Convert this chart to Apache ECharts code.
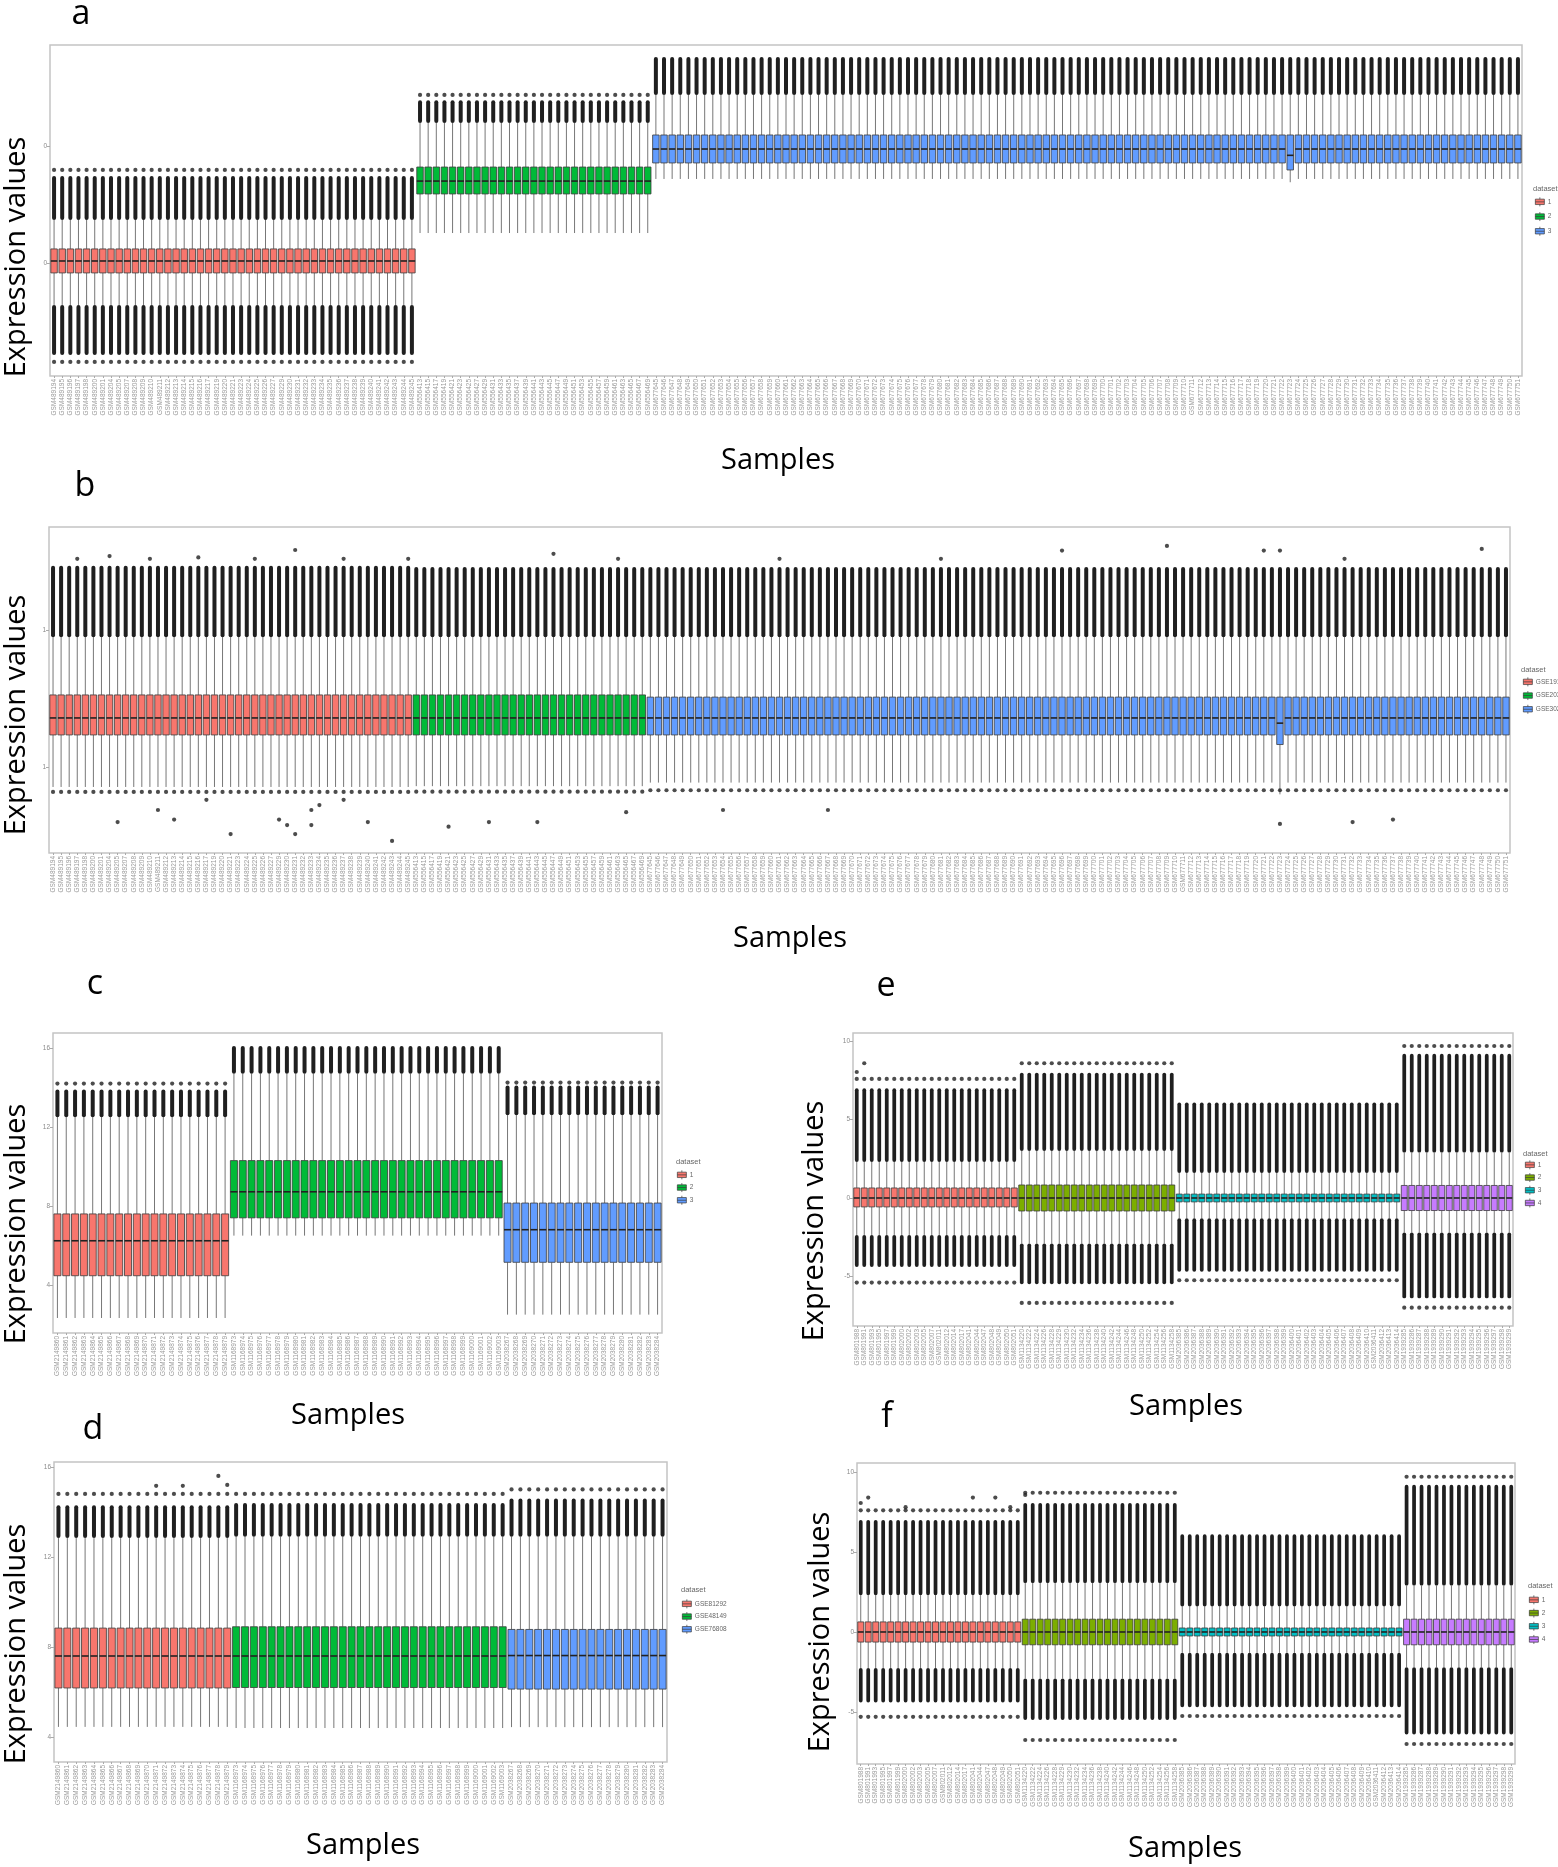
<!DOCTYPE html>
<html><head><meta charset="utf-8">
<script src="https://cdn.jsdelivr.net/npm/echarts@6/dist/echarts.min.js"></script>
<style>html,body{margin:0;padding:0;background:#fff}#c{width:1558px;height:1867px}</style>
</head><body><div id="c"></div>
<script>
// ---------------- categories (sample ids) ----------------
const abRedIds = [489194,489195,489196,489197,489198,489200,489201,489204,489205,489207,489208,489209,489210,489211,489212,489213,489214,489215,489216,489217,489219,489220,489221,489223,489224,489225,489226,489227,489229,489230,489231,489232,489233,489234,489235,489236,489237,489238,489239,489240,489241,489242,489243,489244,489245];
const abGreenIds = [556413,556415,556417,556419,556421,556423,556425,556427,556429,556431,556433,556435,556437,556439,556441,556443,556445,556447,556449,556451,556453,556455,556457,556459,556461,556463,556465,556467,556469];
const abBlueIds = [677645,677646,677647,677648,677649,677650,677651,677652,677653,677654,677655,677656,677657,677658,677659,677660,677661,677662,677663,677664,677665,677666,677667,677668,677669,677670,677671,677672,677673,677674,677675,677676,677677,677678,677679,677680,677681,677682,677683,677684,677685,677686,677687,677688,677689,677690,677691,677692,677693,677694,677695,677696,677697,677698,677699,677700,677701,677702,677703,677704,677705,677706,677707,677708,677709,677710,677711,677712,677713,677714,677715,677716,677717,677718,677719,677720,677721,677722,677723,677724,677725,677726,677727,677728,677729,677730,677731,677732,677733,677734,677735,677736,677737,677738,677739,677740,677741,677742,677743,677744,677745,677746,677747,677748,677749,677750,677751];
const cdRedIds = [2149860,2149861,2149862,2149863,2149864,2149865,2149866,2149867,2149868,2149869,2149870,2149871,2149872,2149873,2149874,2149875,2149876,2149877,2149878,2149879];
const cdGreenIds = [1168973,1168974,1168975,1168976,1168977,1168978,1168979,1168980,1168981,1168982,1168983,1168984,1168985,1168986,1168987,1168988,1168989,1168990,1168991,1168992,1168993,1168994,1168995,1168996,1168997,1168998,1168999,1169000,1169001,1169002,1169003];
const cdBlueIds = [2038267,2038268,2038269,2038270,2038271,2038272,2038273,2038274,2038275,2038276,2038277,2038278,2038279,2038280,2038281,2038282,2038283,2038284];
const efRedIds = [801988,801991,801993,801995,801997,801999,802000,802002,802003,802005,802007,802011,802012,802014,802017,802041,802044,802047,802048,802049,802050,802051];
const efOliveIds = [1134220,1134222,1134224,1134226,1134228,1134229,1134230,1134232,1134234,1134236,1134238,1134240,1134242,1134244,1134246,1134248,1134250,1134252,1134254,1134256,1134258];
const efTealIds = [2036385,2036386,2036387,2036388,2036389,2036390,2036391,2036392,2036393,2036394,2036395,2036396,2036397,2036398,2036399,2036400,2036401,2036402,2036403,2036404,2036405,2036406,2036407,2036408,2036409,2036410,2036411,2036412,2036413,2036414];
const efPurpleIds = [1939285,1939286,1939287,1939288,1939289,1939290,1939291,1939292,1939293,1939294,1939295,1939296,1939297,1939298,1939299];

// legend / dataset names
const aDatasets = ['1','2','3'];
const bDatasets = ['GSE19188','GSE20347','GSE30219'];
const cDatasets = ['1','2','3'];
const dDatasets = ['GSE81292','GSE48149','GSE76808'];
const eDatasets = ['1','2','3','4'];
const fDatasets = ['1','2','3','4'];

// ---------------- panel a (per dataset) ----------------
const aWhiskLo = [-3.59, 2.56, 7.18];
const aQ1      = [-0.85, 5.9, 8.55];
const aMedian  = [0.17, 7.0, 9.74];
const aQ3      = [1.2, 8.2, 10.94];
const aWhiskHi = [3.68, 11.97, 14.36];
const aOutLo   = [-7.86, 2.56, 7.18];
const aOutHi   = [7.44, 13.9, 17.6];
const aDotHi   = [7.95, 14.36, null];
const aDotLo   = [-8.46, null, null];
const aExtraDots = [];
// single deviating sample: [index, whiskLo, q1, median, q3, whiskHi, outLo, outHi]
const aOddBoxes = [[152, 6.9, 7.95, 9.2, 10.94, 14.36, 6.9, 17.6]];
const aTickValues = [0, 10];
const aTickLabels = ['0', '0'];

// ---------------- panel b ----------------
const bWhiskLo = [4.27, 4.3, 4.43];
const bQ1      = [6.17, 6.17, 6.17];
const bMedian  = [6.79, 6.79, 6.79];
const bQ3      = [7.63, 7.63, 7.55];
const bWhiskHi = [9.74, 9.74, 9.74];
const bOutLo   = [4.27, 4.3, 4.43];
const bOutHi   = [12.35, 12.3, 12.3];
const bDotHi   = [null, null, null];
const bDotLo   = [4.09, 4.1, 4.15];
const bExtraDots = [[8,2.99],[13,3.43],[15,3.08],[19,3.8],[22,2.55],[28,3.08],[29,2.88],[30,2.55],[32,3.43],[32,2.88],[33,3.61],[36,3.8],[39,2.99],[42,2.3],[49,2.82],[54,2.99],[60,2.99],[71,3.35],[83,3.43],[96,3.43],[152,2.92],[161,2.99],[166,3.08],
  [3,12.6],[7,12.7],[12,12.6],[18,12.65],[25,12.6],[30,12.92],[36,12.6],[44,12.6],[62,12.78],[70,12.6],[90,12.6],[110,12.6],[125,12.9],[138,13.07],[150,12.9],[152,12.9],[160,12.6],[177,12.96]];
const bOddBoxes = [[152, 4.0, 5.82, 6.6, 7.55, 9.74, 4.0, 12.3]];
const bTickValues = [5, 10];
const bTickLabels = ['1', '1'];

// ---------------- panel c ----------------
const cWhiskLo = [2.33, 6.5, 2.5];
const cQ1      = [4.47, 7.4, 5.15];
const cMedian  = [6.24, 8.72, 6.8];
const cQ3      = [7.6, 10.3, 8.15];
const cWhiskHi = [12.5, 14.7, 12.6];
const cOutLo   = [2.33, 6.5, 2.5];
const cOutHi   = [13.9, 16.1, 14.1];
const cDotHi   = [14.2, null, 14.25];
const cDotLo   = [null, null, null];
const cExtraDots = [];
const cOddBoxes = [];
const cTickValues = [4, 8, 12, 16];
const cTickLabels = ['4', '8', '12', '16'];

// ---------------- panel d ----------------
const dWhiskLo = [4.45, 4.4, 4.44];
const dQ1      = [6.18, 6.2, 6.13];
const dMedian  = [7.6, 7.6, 7.62];
const dQ3      = [8.84, 8.9, 8.78];
const dWhiskHi = [12.84, 12.9, 12.9];
const dOutLo   = [4.45, 4.4, 4.44];
const dOutHi   = [14.3, 14.4, 14.6];
const dDotHi   = [14.8, 14.8, 15.0];
const dDotLo   = [null, null, null];
const dExtraDots = [[18,15.6],[11,15.16],[14,15.16],[19,15.2]];
const dOddBoxes = [];
const dTickValues = [4, 8, 12, 16];
const dTickLabels = ['4', '8', '12', '16'];

// ---------------- panel e ----------------
const eWhiskLo = [-2.36, -2.9, -1.3, -2.2];
const eQ1      = [-0.57, -0.83, -0.25, -0.8];
const eMedian  = [0, 0, 0, 0];
const eQ3      = [0.64, 0.83, 0.25, 0.8];
const eWhiskHi = [2.3, 3.0, 1.6, 2.9];
const eOutLo   = [-4.4, -5.5, -4.7, -6.4];
const eOutHi   = [7.0, 8.0, 6.1, 9.2];
const eDotHi   = [7.6, 8.6, null, 9.7];
const eDotLo   = [-5.4, -6.7, -5.25, -7.0];
const eExtraDots = [[0,8.04],[1,8.6]];
const eOddBoxes = [];
const eTickValues = [-5, 0, 5, 10];
const eTickLabels = ['-5', '0', '5', '10'];

// ---------------- panel f ----------------
const fWhiskLo = [-2.25, -2.9, -1.3, -2.2];
const fQ1      = [-0.63, -0.8, -0.25, -0.8];
const fMedian  = [0, 0, 0, 0];
const fQ3      = [0.63, 0.8, 0.25, 0.8];
const fWhiskHi = [2.3, 3.06, 1.6, 2.9];
const fOutLo   = [-4.4, -5.5, -4.7, -6.4];
const fOutHi   = [7.0, 8.06, 6.1, 9.2];
const fDotHi   = [7.6, 8.7, null, 9.7];
const fDotLo   = [-5.3, -6.75, -5.25, -7.0];
const fExtraDots = [[0,8.06],[1,8.4],[6,7.8],[15,8.4],[18,8.4],[20,7.8],[22,8.56]];
const fOddBoxes = [];
const fTickValues = [-5, 0, 5, 10];
const fTickLabels = ['-5', '0', '5', '10'];

// ---------------- styles / layout ----------------
const COLORS3 = ['#F8766D', '#00BA38', '#619CFF'];
const COLORS4 = ['#F8766D', '#7CAE00', '#00BFC4', '#C77CFF'];

const PANELS = [
  {ids:[abRedIds,abGreenIds,abBlueIds], sets:aDatasets, colors:COLORS3, wl:aWhiskLo,q1:aQ1,md:aMedian,q3:aQ3,wh:aWhiskHi,ol:aOutLo,oh:aOutHi,dh:aDotHi,dl:aDotLo,extra:aExtraDots,odd:aOddBoxes,tv:aTickValues,tl:aTickLabels,
   grid:{left:50,top:45,width:1472,height:331}, yr:[-9.66,18.63], legend:{left:1535,top:197,gap:5}, legendTitle:[1533,190]},
  {ids:[abRedIds,abGreenIds,abBlueIds], sets:bDatasets, colors:COLORS3, wl:bWhiskLo,q1:bQ1,md:bMedian,q3:bQ3,wh:bWhiskHi,ol:bOutLo,oh:bOutHi,dh:bDotHi,dl:bDotLo,extra:bExtraDots,odd:bOddBoxes,tv:bTickValues,tl:bTickLabels,
   grid:{left:49,top:527,width:1461,height:326}, yr:[1.86,13.76], legend:{left:1523,top:677,gap:4}, legendTitle:[1521,671]},
  {ids:[cdRedIds,cdGreenIds,cdBlueIds], sets:cDatasets, colors:COLORS3, wl:cWhiskLo,q1:cQ1,md:cMedian,q3:cQ3,wh:cWhiskHi,ol:cOutLo,oh:cOutHi,dh:cDotHi,dl:cDotLo,extra:cExtraDots,odd:cOddBoxes,tv:cTickValues,tl:cTickLabels,
   grid:{left:53,top:1033,width:609,height:300}, yr:[1.57,16.76], legend:{left:677,top:1170,gap:3}, legendTitle:[676,1163]},
  {ids:[cdRedIds,cdGreenIds,cdBlueIds], sets:dDatasets, colors:COLORS3, wl:dWhiskLo,q1:dQ1,md:dMedian,q3:dQ3,wh:dWhiskHi,ol:dOutLo,oh:dOutHi,dh:dDotHi,dl:dDotLo,extra:dExtraDots,odd:dOddBoxes,tv:dTickValues,tl:dTickLabels,
   grid:{left:54,top:1462,width:613,height:300}, yr:[2.89,16.22], legend:{left:682,top:1599,gap:3}, legendTitle:[681,1591]},
  {ids:[efRedIds,efOliveIds,efTealIds,efPurpleIds], sets:eDatasets, colors:COLORS4, wl:eWhiskLo,q1:eQ1,md:eMedian,q3:eQ3,wh:eWhiskHi,ol:eOutLo,oh:eOutHi,dh:eDotHi,dl:eDotLo,extra:eExtraDots,odd:eOddBoxes,tv:eTickValues,tl:eTickLabels,
   grid:{left:853,top:1033,width:660,height:293}, yr:[-8.17,10.53], legend:{left:1525,top:1160,gap:3}, legendTitle:[1523,1155]},
  {ids:[efRedIds,efOliveIds,efTealIds,efPurpleIds], sets:fDatasets, colors:COLORS4, wl:fWhiskLo,q1:fQ1,md:fMedian,q3:fQ3,wh:fWhiskHi,ol:fOutLo,oh:fOutHi,dh:fDotHi,dl:fDotLo,extra:fExtraDots,odd:fOddBoxes,tv:fTickValues,tl:fTickLabels,
   grid:{left:857,top:1463,width:658,height:301}, yr:[-8.25,10.56], legend:{left:1529,top:1595,gap:3.5}, legendTitle:[1528,1587]}
];

const TEXTS = [
  {t:'a', x:81, y:14}, {t:'b', x:85, y:486}, {t:'c', x:95, y:984},
  {t:'d', x:93, y:1429}, {t:'e', x:886, y:986}, {t:'f', x:887, y:1417}
];
const YTITLES = [[17,257],[17,715],[17,1224],[17,1644],[815,1221],[821,1632]];
const XTITLES = [[778,461],[790,939],[348,1416],[363,1846],[1186,1407],[1185,1849]];

const LEGEND_ICON = 'path://M5,0L5,2M0,2L10,2L10,8L0,8ZM0,5L10,5M5,8L5,10';

function renderBox(params, api) {
  const x = api.value(0);
  const lo = api.coord([x, api.value(1)]);
  const q1 = api.coord([x, api.value(2)]);
  const md = api.coord([x, api.value(3)]);
  const q3 = api.coord([x, api.value(4)]);
  const hi = api.coord([x, api.value(5)]);
  const ol = api.coord([x, api.value(6)]);
  const oh = api.coord([x, api.value(7)]);
  const band = api.size([1, 0])[0];
  const bw = band * 0.8;
  const cw = Math.min(4, band * 0.5);
  const cx = q1[0];
  const color = api.visual('color');
  const wStyle = {stroke: '#777', lineWidth: 1};
  const ch = [
    {type:'line', shape:{x1:cx, y1:hi[1], x2:cx, y2:q3[1]}, style:wStyle},
    {type:'line', shape:{x1:cx, y1:q1[1], x2:cx, y2:lo[1]}, style:wStyle}
  ];
  if (oh[1] < hi[1] - 0.5) ch.push({type:'rect', shape:{x:cx-cw/2, y:oh[1], width:cw, height:hi[1]-oh[1], r:cw/2}, style:{fill:'#1f1f1f'}});
  if (ol[1] > lo[1] + 0.5) ch.push({type:'rect', shape:{x:cx-cw/2, y:lo[1], width:cw, height:ol[1]-lo[1], r:cw/2}, style:{fill:'#1f1f1f'}});
  ch.push({type:'rect', shape:{x:cx-bw/2, y:q3[1], width:bw, height:q1[1]-q3[1]}, style:{fill:color, stroke:'#3a3a3a', lineWidth:0.8}});
  ch.push({type:'line', shape:{x1:cx-bw/2, y1:md[1], x2:cx+bw/2, y2:md[1]}, style:{stroke:'#222', lineWidth:1.6}});
  return {type:'group', children:ch};
}

const grids = [], xAxes = [], yAxes = [], series = [], legends = [], graphics = [];
const TXT = '#8a8a8a';

PANELS.forEach((p, pi) => {
  grids.push(Object.assign({show:true, borderColor:'#c4c4c4', borderWidth:1.5, backgroundColor:'#fff', containLabel:false}, p.grid));
  const cats = [];
  p.ids.forEach(list => list.forEach(id => cats.push('GSM' + id)));
  xAxes.push({type:'category', gridIndex:pi, data:cats, boundaryGap:true, position:'bottom',
    axisLine:{show:false, onZero:false}, axisTick:{show:true, alignWithLabel:true, length:2, lineStyle:{color:'#aaa'}},
    axisLabel:{interval:0, rotate:90, fontSize:6.5, color:'#9a9a9a', margin:3, fontFamily:'Liberation Sans'},
    splitLine:{show:false}});
  yAxes.push({type:'value', gridIndex:pi, min:p.yr[0], max:p.yr[1],
    axisLine:{show:false, onZero:false}, splitLine:{show:false},
    axisTick:{show:true, length:3, lineStyle:{color:'#aaa'}, customValues:p.tv},
    axisLabel:{fontSize:6.5, color:TXT, margin:3, fontFamily:'Liberation Sans', customValues:p.tv,
      formatter: v => { const i = p.tv.indexOf(v); return i >= 0 ? p.tl[i] : ''; }}});
  const oddMap = {};
  p.odd.forEach(o => { oddMap[o[0]] = o; });
  let off = 0;
  const dots = [];
  p.ids.forEach((list, g) => {
    const data = list.map((id, k) => oddMap[off + k] ? oddMap[off + k].slice()
      : [off + k, p.wl[g], p.q1[g], p.md[g], p.q3[g], p.wh[g], p.ol[g], p.oh[g]]);
    series.push({type:'custom', name:p.sets[g], xAxisIndex:pi, yAxisIndex:pi, renderItem:renderBox,
      itemStyle:{color:p.colors[g]}, encode:{x:0, y:[1,2,3,4,5,6,7]}, data:data, silent:true, z:2});
    list.forEach((id, k) => {
      if (p.dh[g] != null) dots.push([off + k, p.dh[g]]);
      if (p.dl[g] != null) dots.push([off + k, p.dl[g]]);
    });
    off += list.length;
  });
  p.extra.forEach(d => dots.push(d));
  series.push({type:'scatter', xAxisIndex:pi, yAxisIndex:pi, data:dots, symbolSize:4.2,
    itemStyle:{color:'#1f1f1f'}, silent:true, z:3});
  legends.push({orient:'vertical', left:p.legend.left, top:p.legend.top, padding:0, itemGap:p.legend.gap,
    itemWidth:10, itemHeight:9, icon:LEGEND_ICON, selectedMode:false,
    textStyle:{fontSize:6.5, color:'#666', fontFamily:'Liberation Sans', padding:[0,0,0,-2]},
    itemStyle:{borderColor:'#3a3a3a', borderWidth:0.7},
    data:p.sets.map((s, g) => ({name:s, itemStyle:{color:p.colors[g], borderColor:'#3a3a3a', borderWidth:0.7}}))});
  graphics.push({type:'text', left:p.legendTitle[0], top:p.legendTitle[1]-5,
    style:{text:'dataset', fontSize:7.5, fill:'#666', fontFamily:'Liberation Sans'}});
});

TEXTS.forEach(t => graphics.push({type:'text', x:t.x, y:t.y,
  style:{text:t.t, fontSize:34, fill:'#000', fontFamily:'Open Sans', align:'center', verticalAlign:'middle'}}));
YTITLES.forEach(p => graphics.push({type:'text', x:p[0], y:p[1], rotation:Math.PI/2,
  style:{text:'Expression values', fontSize:29, fill:'#000', fontFamily:'Open Sans', align:'center', verticalAlign:'middle'}}));
XTITLES.forEach(p => graphics.push({type:'text', x:p[0], y:p[1],
  style:{text:'Samples', fontSize:29, fill:'#000', fontFamily:'Open Sans', align:'center', verticalAlign:'middle'}}));

const chart = echarts.init(document.getElementById('c'), null, {renderer:'canvas'});
chart.setOption({
  animation:false, backgroundColor:'#fff',
  grid:grids, xAxis:xAxes, yAxis:yAxes, series:series, legend:legends, graphic:graphics
});
</script></body></html>
